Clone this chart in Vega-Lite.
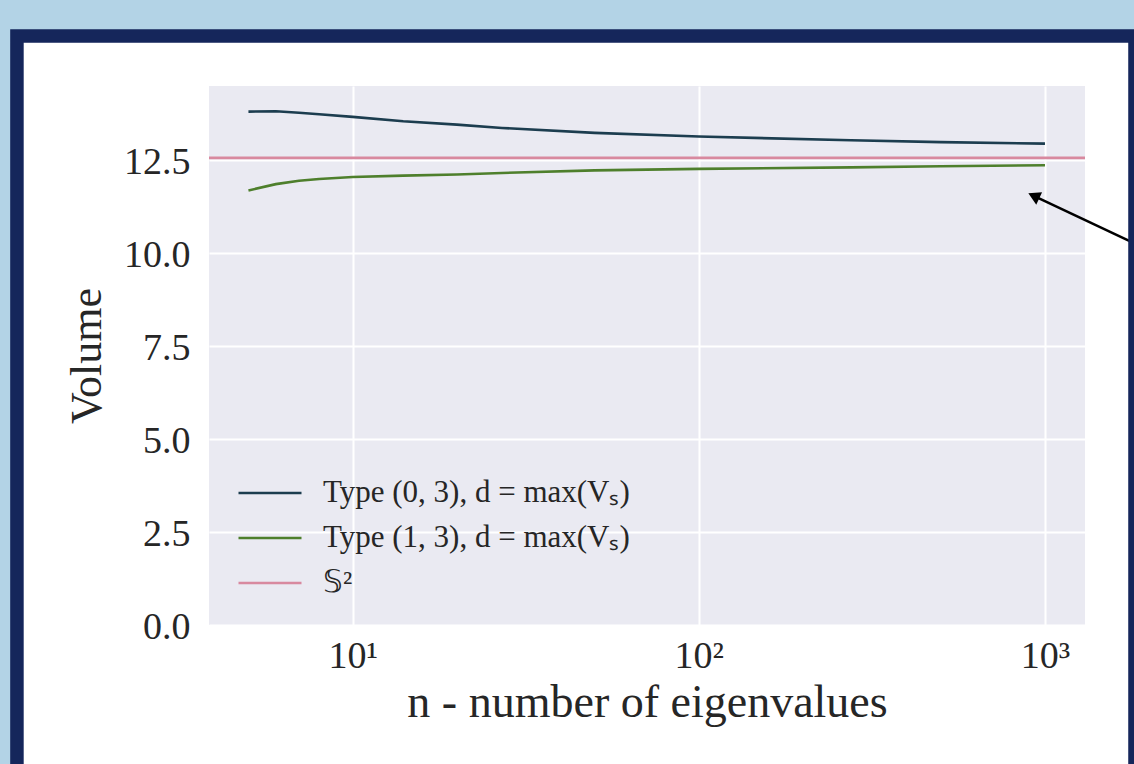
{
  "$schema": "https://vega.github.io/schema/vega-lite/v6.json",
  "width": 876,
  "height": 539,
  "autosize": {"type": "none"},
  "padding": {"left": 209, "top": 86, "right": 49, "bottom": 139},
  "background": "white",
  "config": {
    "view": {"fill": "#eaeaf2", "stroke": null},
    "font": "Liberation Serif"
  },
  "datasets": {
    "series": [
      {"s": "Type (0, 3), d = max(Vₛ)", "n": 5, "v": 13.81},
      {"s": "Type (0, 3), d = max(Vₛ)", "n": 6, "v": 13.82},
      {"s": "Type (0, 3), d = max(Vₛ)", "n": 7, "v": 13.78},
      {"s": "Type (0, 3), d = max(Vₛ)", "n": 8, "v": 13.74},
      {"s": "Type (0, 3), d = max(Vₛ)", "n": 10, "v": 13.67},
      {"s": "Type (0, 3), d = max(Vₛ)", "n": 14, "v": 13.55},
      {"s": "Type (0, 3), d = max(Vₛ)", "n": 20, "v": 13.46},
      {"s": "Type (0, 3), d = max(Vₛ)", "n": 27, "v": 13.37},
      {"s": "Type (0, 3), d = max(Vₛ)", "n": 50, "v": 13.24},
      {"s": "Type (0, 3), d = max(Vₛ)", "n": 100, "v": 13.14},
      {"s": "Type (0, 3), d = max(Vₛ)", "n": 275, "v": 13.04},
      {"s": "Type (0, 3), d = max(Vₛ)", "n": 500, "v": 12.99},
      {"s": "Type (0, 3), d = max(Vₛ)", "n": 1000, "v": 12.95},
      {"s": "Type (1, 3), d = max(Vₛ)", "n": 5, "v": 11.69},
      {"s": "Type (1, 3), d = max(Vₛ)", "n": 6, "v": 11.86},
      {"s": "Type (1, 3), d = max(Vₛ)", "n": 7, "v": 11.95},
      {"s": "Type (1, 3), d = max(Vₛ)", "n": 8, "v": 12.0},
      {"s": "Type (1, 3), d = max(Vₛ)", "n": 10, "v": 12.05},
      {"s": "Type (1, 3), d = max(Vₛ)", "n": 14, "v": 12.09},
      {"s": "Type (1, 3), d = max(Vₛ)", "n": 20, "v": 12.12},
      {"s": "Type (1, 3), d = max(Vₛ)", "n": 27, "v": 12.16},
      {"s": "Type (1, 3), d = max(Vₛ)", "n": 50, "v": 12.23},
      {"s": "Type (1, 3), d = max(Vₛ)", "n": 100, "v": 12.27},
      {"s": "Type (1, 3), d = max(Vₛ)", "n": 275, "v": 12.31},
      {"s": "Type (1, 3), d = max(Vₛ)", "n": 500, "v": 12.34},
      {"s": "Type (1, 3), d = max(Vₛ)", "n": 1000, "v": 12.37}
    ],
    "arrow": [
      {"n": 2150, "v": 9.946},
      {"n": 928, "v": 11.544}
    ],
    "arrowhead": [
      {"n": 928, "v": 11.544}
    ],
    "one": [{}]
  },
  "layer": [
    {
      "data": {"name": "series"},
      "mark": {"type": "line", "strokeWidth": 2.6},
      "encoding": {
        "x": {
          "field": "n",
          "type": "quantitative",
          "scale": {"type": "log", "domain": [3.846, 1305], "nice": false},
          "axis": {
            "title": "n - number of eigenvalues",
            "titleFontSize": 46,
            "titleFontWeight": "normal",
            "titleColor": "#262626",
            "titleBaseline": "alphabetic",
            "titleY": 91,
            "values": [10, 100, 1000],
            "labelExpr": "datum.value == 10 ? '10¹' : datum.value == 100 ? '10²' : '10³'",
            "labelFontSize": 38,
            "labelColor": "#262626",
            "labelPadding": 12,
            "labelFlush": false,
            "ticks": false,
            "domain": false,
            "grid": true,
            "gridColor": "white",
            "gridWidth": 2
          }
        },
        "y": {
          "field": "v",
          "type": "quantitative",
          "scale": {"domain": [0, 14.5], "nice": false, "zero": false},
          "axis": {
            "title": "Volume",
            "titleFontSize": 44,
            "titleFontWeight": "normal",
            "titleColor": "#262626",
            "titleBaseline": "alphabetic",
            "titleX": -109,
            "values": [0, 2.5, 5, 7.5, 10, 12.5],
            "format": ".1f",
            "labelFontSize": 38,
            "labelColor": "#262626",
            "labelPadding": 19,
            "labelOffset": 2,
            "labelFlush": false,
            "ticks": false,
            "domain": false,
            "grid": true,
            "gridColor": "white",
            "gridWidth": 2
          }
        },
        "color": {
          "field": "s",
          "type": "nominal",
          "scale": {
            "domain": ["Type (0, 3), d = max(Vₛ)", "Type (1, 3), d = max(Vₛ)", "𝕊²"],
            "range": ["#1c3d4f", "#4e7f2c", "#d8899f"]
          },
          "legend": {
            "orient": "none",
            "legendX": 28,
            "legendY": 392,
            "title": null,
            "symbolType": "stroke",
            "symbolSize": 3969,
            "symbolStrokeWidth": 2.6,
            "labelFontSize": 31,
            "labelFont": "Liberation Serif",
            "labelColor": "#262626",
            "labelOffset": 20,
            "labelLimit": 600,
            "clipHeight": 30,
            "rowPadding": 14,
            "padding": 0
          }
        }
      }
    },
    {
      "data": {"name": "one"},
      "mark": {"type": "rule", "strokeWidth": 2.6},
      "encoding": {
        "y": {"datum": 12.566, "type": "quantitative"},
        "color": {"datum": "𝕊²", "type": "nominal"}
      }
    },
    {
      "data": {"name": "arrow"},
      "mark": {"type": "line", "color": "black", "strokeWidth": 2.5, "clip": false},
      "encoding": {
        "x": {"field": "n", "type": "quantitative"},
        "y": {"field": "v", "type": "quantitative"}
      }
    },
    {
      "data": {"name": "arrowhead"},
      "mark": {"type": "point", "shape": "triangle-up", "size": 190, "angle": 295, "filled": true, "color": "black", "opacity": 1, "clip": false},
      "encoding": {
        "x": {"field": "n", "type": "quantitative"},
        "y": {"field": "v", "type": "quantitative"}
      }
    },
    {
      "data": {"name": "one"},
      "mark": {"type": "rect", "color": "#b3d3e6", "clip": false},
      "encoding": {
        "x": {"datum": 0.896, "type": "quantitative"},
        "x2": {"datum": 2011},
        "y": {"datum": 17.08, "type": "quantitative"},
        "y2": {"datum": 15.846}
      }
    },
    {
      "data": {"name": "one"},
      "mark": {"type": "rect", "color": "#b3d3e6", "clip": false},
      "encoding": {
        "x": {"datum": 0.896, "type": "quantitative"},
        "x2": {"datum": 1.072},
        "y": {"datum": 17.08, "type": "quantitative"},
        "y2": {"datum": -4.708}
      }
    },
    {
      "data": {"name": "one"},
      "mark": {"type": "rect", "fill": null, "fillOpacity": 0, "stroke": "#15265b", "strokeWidth": 13.5, "clip": false},
      "encoding": {
        "x": {"datum": 1.072, "type": "quantitative"},
        "x2": {"datum": 1819.7},
        "y": {"datum": 15.846, "type": "quantitative"},
        "y2": {"datum": -4.708}
      }
    }
  ]
}
